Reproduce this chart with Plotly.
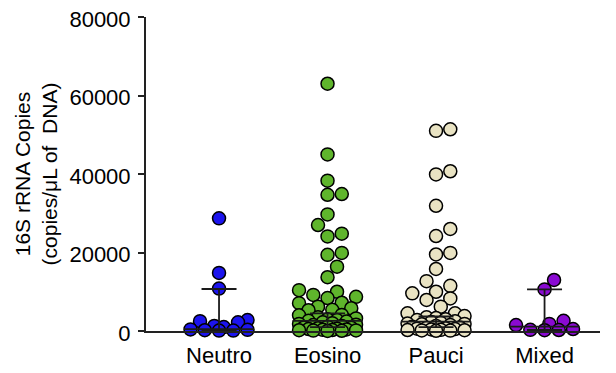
import math
import plotly.graph_objects as go

# ---- data ----
categories = ["Neutro", "Eosino", "Pauci", "Mixed"]

neutro = [28700, 14800, 10800, 2800, 2500, 2200, 1300, 1000, 400, 300, 200, 100, 100]
eosino = [63000, 45000, 38300, 34700, 34900, 29700, 27000, 24100, 24800, 19400, 19900,
          16400, 13700, 10400, 10000, 9200, 8700, 8400, 7200, 7100, 6200, 5800, 5400,
          5300, 4100, 4000, 3500, 3200, 3000, 2800, 2600, 2400, 2200, 2000, 1800, 1600,
          1500, 1300, 1100, 900, 800, 700, 600, 500, 400, 300, 250, 200, 150, 100, 60, 30]
pauci = [51400, 51000, 40700, 39900, 31900, 26000, 24200, 19900, 19500, 15800, 12700,
         11500, 10000, 9600, 8300, 7900, 6200, 4500, 4500, 3800, 3500, 3300, 3000, 2800,
         2500, 2300, 2100, 1900, 1800, 1700, 1500, 1300, 1100, 900, 800, 700, 600, 500,
         400, 300, 250, 200, 150, 100, 50]
mixed = [13000, 10600, 2600, 1800, 1500, 500, 300, 250, 200]

medians = [500, 2600, 2400, 1100]
ci_upper = [10700, 4500, 3700, 10600]
ci_lower = [100, 1000, 1000, 250]

y_ticks = [0, 20000, 40000, 60000, 80000]
colors = ["#1c14ee", "#5fb52c", "#e9e3c3", "#8a0ad2"]

groups = [neutro, eosino, pauci, mixed]

# ---- layout geometry (page body has an 8px margin) ----
PAGE_W, PAGE_H, BODY = 616, 373, 8
W, H = PAGE_W - BODY, PAGE_H - BODY
ML, MR, MT, MB = 146 - BODY, 16, 17 - BODY, 42
plot_w = W - ML - MR
plot_h = H - MT - MB
y_max = 80000
x_range = [-0.673, 3.511]
px_per_x = plot_w / (x_range[1] - x_range[0])
px_per_y = plot_h / y_max


def swarm_offsets(values, d=12.5, max_off=33.0, step=4.75):
    """Greedy beeswarm on a grid of x slots, width-limited (points may overlap)."""
    n = len(values)
    order = sorted(range(n), key=lambda i: values[i])
    k = int(max_off // step)
    slots = sorted([j * step for j in range(-k, k + 1)], key=lambda c: (abs(c), -c))
    placed = []
    offs = [0.0] * n
    for i in order:
        y = values[i] * px_per_y
        best, best_score = None, -1.0
        for c in slots:
            md = min([math.hypot(c - px, y - py) for px, py in placed] or [1e9])
            if md >= d:
                best = c
                break
            if md > best_score + 1e-9:
                best_score, best = md, c
        offs[i] = best
        placed.append((best, y))
    return [o / px_per_x for o in offs]


fig = go.Figure()

for gi, (name, vals, col) in enumerate(zip(categories, groups, colors)):
    offs = swarm_offsets(vals)
    fig.add_trace(go.Scatter(
        x=[gi + o for o in offs], y=vals, mode="markers",
        marker=dict(size=13, color=col, line=dict(color="black", width=1.5)),
        cliponaxis=False, showlegend=False, hoverinfo="y", name=name))

# median + 95% CI lines drawn on top
med_half = 35 / px_per_x
cap_half = 17.5 / px_per_x
for gi in range(len(categories)):
    xs, ys = [], []
    xs += [gi - med_half, gi + med_half, None]
    ys += [medians[gi], medians[gi], None]
    xs += [gi, gi, None]
    ys += [ci_lower[gi], ci_upper[gi], None]
    xs += [gi - cap_half, gi + cap_half, None]
    ys += [ci_upper[gi], ci_upper[gi], None]
    xs += [gi - cap_half, gi + cap_half, None]
    ys += [ci_lower[gi], ci_lower[gi], None]
    fig.add_trace(go.Scatter(x=xs, y=ys, mode="lines",
                             line=dict(color="#1a1a1a", width=1.8),
                             cliponaxis=False, showlegend=False, hoverinfo="skip"))

font = "Liberation Sans, Arial, sans-serif"
fig.update_layout(
    width=W, height=H,
    margin=dict(l=ML, r=MR, t=MT, b=MB, autoexpand=False),
    paper_bgcolor="white", plot_bgcolor="white",
    font=dict(family=font, size=22, color="black"),
    xaxis=dict(range=x_range, tickmode="array", tickvals=list(range(len(categories))),
               ticktext=categories, showgrid=False, zeroline=False, automargin=False,
               showline=True, linecolor="#222", linewidth=2, ticks="",
               ticklabelstandoff=4, ticklabeloverflow="allow", tickfont=dict(size=22)),
    yaxis=dict(range=[0, y_max], tickmode="array", tickvals=y_ticks,
               ticktext=[str(t) for t in y_ticks], showgrid=False, zeroline=False,
               automargin=False,
               showline=True, linecolor="#222", linewidth=2, ticks="outside",
               ticklen=6, tickwidth=2, tickcolor="#222", ticklabelstandoff=3,
               ticklabelshift=2,
               ticklabeloverflow="allow", tickfont=dict(size=22),
               title=dict(text="16S rRNA Copies<br>(copies/μL of  DNA)",
                          font=dict(size=21), standoff=6)),
)

fig.write_html("out.html")
